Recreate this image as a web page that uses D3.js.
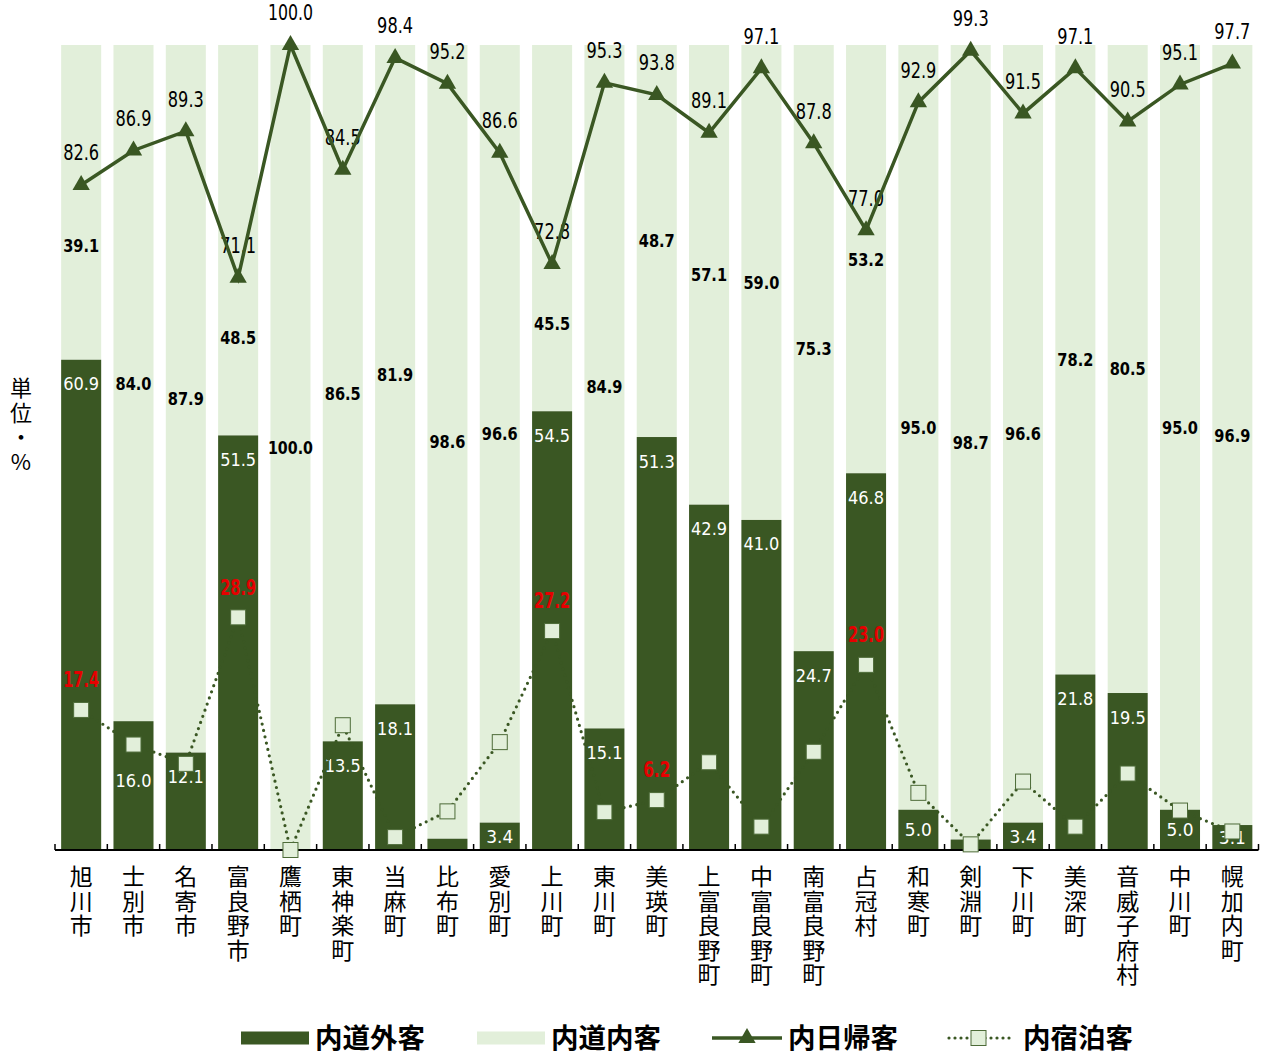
<!DOCTYPE html>
<html><head><meta charset="utf-8">
<script src="https://cdn.jsdelivr.net/npm/d3@7"></script>
<style>
html,body{margin:0;padding:0;background:#fff;}
svg{display:block;}
.num{font-family:"DejaVu Sans","Liberation Sans",sans-serif;font-stretch:condensed;}
.jp{font-family:"Noto Sans CJK JP","Noto Sans",sans-serif;}
.vert{writing-mode:vertical-rl;text-orientation:upright;}
</style>
</head><body>
<svg id="chart" width="1262" height="1055"></svg>
<script>
// ---- data ----
const categories = ["旭川市","士別市","名寄市","富良野市","鷹栖町","東神楽町","当麻町","比布町","愛別町","上川町","東川町","美瑛町","上富良野町","中富良野町","南富良野町","占冠村","和寒町","剣淵町","下川町","美深町","音威子府村","中川町","幌加内町"];
const outsideVisitors = [60.9,16.0,12.1,51.5,0.0,13.5,18.1,1.4,3.4,54.5,15.1,51.3,42.9,41.0,24.7,46.8,5.0,1.3,3.4,21.8,19.5,5.0,3.1];   // 内道外客
const insideVisitors  = [39.1,84.0,87.9,48.5,100.0,86.5,81.9,98.6,96.6,45.5,84.9,48.7,57.1,59.0,75.3,53.2,95.0,98.7,96.6,78.2,80.5,95.0,96.9]; // 内道内客
const dayTrip   = [82.6,86.9,89.3,71.1,100.0,84.5,98.4,95.2,86.6,72.8,95.3,93.8,89.1,97.1,87.8,77.0,92.9,99.3,91.5,97.1,90.5,95.1,97.7]; // 内日帰客
const overnight = [17.4,13.1,10.7,28.9,0.0,15.5,1.6,4.8,13.4,27.2,4.7,6.2,10.9,2.9,12.2,23.0,7.1,0.7,8.5,2.9,9.5,4.9,2.3]; // 内宿泊客
const overnightLabeled = ["旭川市","富良野市","上川町","美瑛町","占冠村"];
const legendLabels = ["内道外客","内道内客","内日帰客","内宿泊客"];
const unitLabel = "単位・%";

// ---- colours ----
const DARK = "#3a5723", LIGHT = "#e2efda", RED = "#e60000";

const svg = d3.select("#chart");
const rows = categories.map((c,i)=>({c,i,out:outsideVisitors[i],ins:insideVisitors[i],day:dayTrip[i],ovn:overnight[i]}));

const x = d3.scaleBand().domain(categories).range([55,1258.5]).paddingInner(0.235).paddingOuter(0.1175);
const y = d3.scaleLinear().domain([0,100]).range([850,45]);
const cx = d => x(d.c) + x.bandwidth()/2;
const fmt = v => v.toFixed(1);
const tl = s => s.length * 9;   // compressed label width (narrow font look)

// bars
svg.append("g").selectAll("rect").data(rows).join("rect")
  .attr("x", d=>x(d.c)).attr("width", x.bandwidth())
  .attr("y", d=>y(d.out + d.ins)).attr("height", d=>y(d.out) - y(d.out + d.ins))
  .attr("fill", LIGHT);
svg.append("g").selectAll("rect").data(rows).join("rect")
  .attr("x", d=>x(d.c)).attr("width", x.bandwidth())
  .attr("y", d=>y(d.out)).attr("height", d=>y(0) - y(d.out))
  .attr("fill", DARK);

// axis
const axisG = svg.append("g").attr("transform", `translate(0,${y(0)})`);
axisG.call(d3.axisBottom(x).tickSize(0).tickFormat(""));
axisG.select(".domain").attr("stroke","#000").attr("stroke-width",2).attr("d",`M${x.range()[0]},0H${x.range()[1]}`);
const bounds = d3.range(categories.length + 1).map(i => x.range()[0] + i * x.step());
axisG.selectAll("line.bt").data(bounds).join("line").attr("class","bt")
  .attr("x1", d=>d).attr("x2", d=>d).attr("y1",0).attr("y2",-6)
  .attr("stroke","#000").attr("stroke-width",1.5);

// category labels (vertical)
svg.append("g").attr("class","jp").attr("font-size",23).attr("fill","#000")
  .selectAll("text").data(rows).join("text")
  .attr("class","vert")
  .attr("x", cx).attr("y", 865)
  .attr("letter-spacing", 1.5)
  .text(d=>d.c);

// unit label
svg.append("text").attr("class","jp vert").attr("font-size",22)
  .attr("x",21).attr("y",377).attr("letter-spacing",2.5).text(unitLabel);

// outside labels (white)
svg.append("g").attr("class","num").attr("font-size",18).attr("fill","#fff").attr("text-anchor","middle")
  .selectAll("text").data(rows.filter(d=>d.out>=3)).join("text")
  .attr("x", cx)
  .attr("y", d=>{
     const top = y(d.out), h = y(0)-top;
     let yy = Math.min(top + 24, (top + y(0))/2);
     const sq = y(d.ovn);
     if (h > 48 && Math.abs(yy - sq) < 10) yy = sq + 36;
     return yy;
  })
  .attr("dy","0.36em")
  .attr("textLength", d=>tl(fmt(d.out))).attr("lengthAdjust","spacingAndGlyphs")
  .text(d=>fmt(d.out));

// inside labels (black bold)
svg.append("g").attr("class","num").attr("font-size",18).attr("font-weight","bold").attr("fill","#000").attr("text-anchor","middle")
  .selectAll("text").data(rows).join("text")
  .attr("x", cx)
  .attr("y", d=>{
     const c = (y(d.out) + y(d.out+d.ins))/2, t = y(d.day);
     return (c > t - 60 && c < t + 25) ? t + 60 : c;
  })
  .attr("dy","0.36em")
  .attr("textLength", d=>tl(fmt(d.ins))).attr("lengthAdjust","spacingAndGlyphs")
  .text(d=>fmt(d.ins));

// day-trip labels
svg.append("g").attr("class","num").attr("font-size",20.5).attr("fill","#000").attr("text-anchor","middle")
  .selectAll("text").data(rows).join("text")
  .attr("x", cx).attr("y", d=>y(d.day) - 32).attr("dy","0.36em")
  .attr("textLength", d=>tl(fmt(d.day))).attr("lengthAdjust","spacingAndGlyphs")
  .text(d=>fmt(d.day));

// overnight dotted line + squares
svg.append("path").datum(rows)
  .attr("d", d3.line().x(cx).y(d=>y(d.ovn)))
  .attr("fill","none").attr("stroke",DARK).attr("stroke-width",3.2)
  .attr("stroke-linecap","round").attr("stroke-dasharray","0 6.5");
svg.append("g").selectAll("rect").data(rows).join("rect")
  .attr("x", d=>cx(d)-7.5).attr("y", d=>y(d.ovn)-7.5).attr("width",15).attr("height",15)
  .attr("fill", LIGHT).attr("stroke", "#4d6b38").attr("stroke-width",1);

// overnight labels (red)
svg.append("g").attr("class","num").attr("font-size",20.5).attr("font-weight","bold").attr("fill",RED).attr("text-anchor","middle")
  .selectAll("text").data(rows.filter(d=>overnightLabeled.includes(d.c))).join("text")
  .attr("x", cx).attr("y", d=>y(d.ovn) - 30).attr("dy","0.36em")
  .attr("textLength", d=>tl(fmt(d.ovn))).attr("lengthAdjust","spacingAndGlyphs")
  .text(d=>fmt(d.ovn));

// day-trip line + triangles
svg.append("path").datum(rows)
  .attr("d", d3.line().x(cx).y(d=>y(d.day)))
  .attr("fill","none").attr("stroke",DARK).attr("stroke-width",3.5).attr("stroke-linejoin","miter");
const tri = d3.symbol().type(d3.symbolTriangle).size(130);
svg.append("g").selectAll("path").data(rows).join("path")
  .attr("transform", d=>`translate(${cx(d)},${y(d.day)})`)
  .attr("d", tri()).attr("fill", DARK);

// legend
const lg = svg.append("g").attr("class","jp").attr("font-size",27.5).attr("font-weight","bold");
const ly = 1038;
lg.append("rect").attr("x",241).attr("y",ly-6.5).attr("width",68).attr("height",13).attr("fill",DARK);
lg.append("text").attr("x",315).attr("y",ly).attr("dy","0.35em").text(legendLabels[0]);
lg.append("rect").attr("x",477).attr("y",ly-6.5).attr("width",68).attr("height",13).attr("fill",LIGHT);
lg.append("text").attr("x",551).attr("y",ly).attr("dy","0.35em").text(legendLabels[1]);
lg.append("line").attr("x1",712).attr("x2",782).attr("y1",ly).attr("y2",ly).attr("stroke",DARK).attr("stroke-width",3.5);
lg.append("path").attr("transform",`translate(747,${ly})`).attr("d",tri()).attr("fill",DARK);
lg.append("text").attr("x",788).attr("y",ly).attr("dy","0.35em").text(legendLabels[2]);
lg.append("line").attr("x1",949).attr("x2",1014).attr("y1",ly).attr("y2",ly).attr("stroke",DARK).attr("stroke-width",3.2)
  .attr("stroke-linecap","round").attr("stroke-dasharray","0 6");
lg.append("rect").attr("x",971).attr("y",ly-7.5).attr("width",15).attr("height",15).attr("fill",LIGHT).attr("stroke","#4d6b38").attr("stroke-width",1);
lg.append("text").attr("x",1023).attr("y",ly).attr("dy","0.35em").text(legendLabels[3]);
</script>
</body></html>
